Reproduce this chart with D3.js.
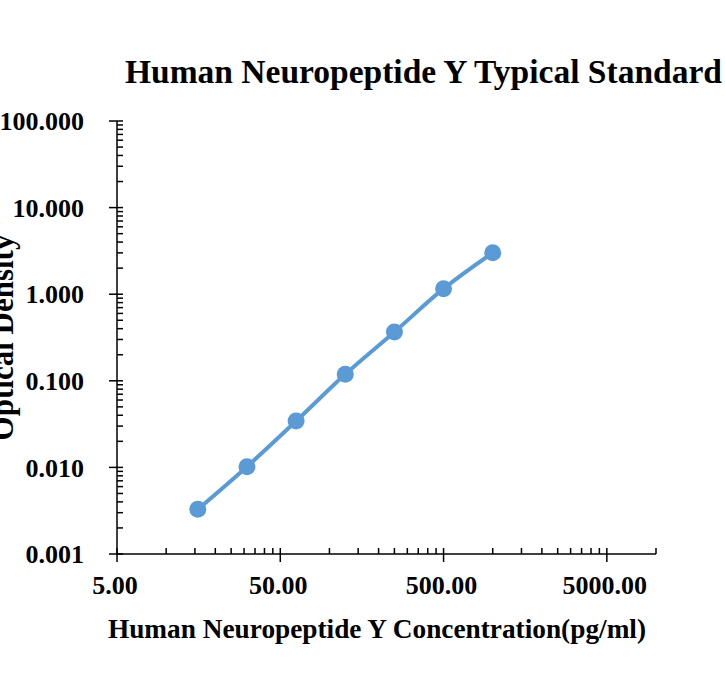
<!DOCTYPE html>
<html lang="en">
  <head>
    <meta charset="UTF-8" />
    <title>Human Neuropeptide Y Typical Standard</title>
    <script src="https://d3js.org/d3.v7.min.js"></script>
    <style>
      body { margin: 0; background: #fff; }
      text { font-family: 'Liberation Serif', 'Times New Roman', serif; font-weight: bold; fill: #000; }
    </style>
  </head>

  <body>
    <div id="graph"></div>
    <script>
      // 标准曲线数据
      const concentration = [15.625, 31.25, 62.5, 125, 250, 500, 1000]
      const opticalDensity = [0.00328, 0.0102, 0.0343, 0.119, 0.366, 1.158, 3.01]
      const xTicks = [5, 50, 500, 5000]
      const yTicks = [0.001, 0.01, 0.1, 1, 10, 100]

      const width = 725
      const height = 698
      const margin = { left: 117, right: 69, top: 121, bottom: 144 }

      const svg = d3.select('#graph').append('svg').attr('width', width).attr('height', height)

      // 对数比例尺
      const xScale = d3
        .scaleLog()
        .domain([5, 10000])
        .range([margin.left, width - margin.right])
      const yScale = d3
        .scaleLog()
        .domain([0.001, 100])
        .range([height - margin.bottom, margin.top])

      // 次刻度: 每个十进位中的 2..9 倍
      const xMinor = []
      xTicks.forEach((t) => d3.range(2, 10).forEach((k) => t * k <= 10000 && xMinor.push(t * k)))
      const yMinor = []
      yTicks.slice(0, -1).forEach((t) => d3.range(2, 10).forEach((k) => yMinor.push(t * k)))

      const axisColor = '#000'

      // x 轴
      const xAxis = svg.append('g').attr('transform', `translate(0, ${height - margin.bottom})`)
      xAxis
        .append('line')
        .attr('x1', xScale.range()[0])
        .attr('x2', xScale.range()[1])
        .attr('stroke', axisColor)
        .attr('stroke-width', 1.5)
      xAxis
        .selectAll('.major')
        .data(xTicks)
        .join('line')
        .attr('x1', (d) => xScale(d))
        .attr('x2', (d) => xScale(d))
        .attr('y1', -6)
        .attr('y2', 8)
        .attr('stroke', axisColor)
        .attr('stroke-width', 1.5)
      xAxis
        .selectAll('.minor')
        .data(xMinor)
        .join('line')
        .attr('x1', (d) => xScale(d))
        .attr('x2', (d) => xScale(d))
        .attr('y1', -6)
        .attr('y2', 0)
        .attr('stroke', axisColor)
        .attr('stroke-width', 1.5)
      xAxis
        .selectAll('text')
        .data(xTicks)
        .join('text')
        .attr('x', (d) => xScale(d) - 2)
        .attr('y', 40)
        .attr('text-anchor', 'middle')
        .attr('font-size', 26)
        .text((d) => d3.format('.2f')(d))

      // y 轴
      const yAxis = svg.append('g').attr('transform', `translate(${margin.left}, 0)`)
      yAxis
        .append('line')
        .attr('y1', yScale.range()[0])
        .attr('y2', yScale.range()[1])
        .attr('stroke', axisColor)
        .attr('stroke-width', 1.5)
      yAxis
        .selectAll('.major')
        .data(yTicks)
        .join('line')
        .attr('y1', (d) => yScale(d))
        .attr('y2', (d) => yScale(d))
        .attr('x1', -8)
        .attr('x2', 6)
        .attr('stroke', axisColor)
        .attr('stroke-width', 1.5)
      yAxis
        .selectAll('.minor')
        .data(yMinor)
        .join('line')
        .attr('y1', (d) => yScale(d))
        .attr('y2', (d) => yScale(d))
        .attr('x1', 0)
        .attr('x2', 6)
        .attr('stroke', axisColor)
        .attr('stroke-width', 1.5)
      yAxis
        .selectAll('text')
        .data(yTicks)
        .join('text')
        .attr('x', -33)
        .attr('y', (d) => yScale(d))
        .attr('dy', '0.35em')
        .attr('text-anchor', 'end')
        .attr('font-size', 26)
        .text((d) => d3.format('.3f')(d))

      // 曲线与标记
      const points = concentration.map((c, i) => [c, opticalDensity[i]])
      const line = d3
        .line()
        .x((d) => xScale(d[0]))
        .y((d) => yScale(d[1]))
        .curve(d3.curveCatmullRom)
      svg
        .append('path')
        .datum(points)
        .attr('d', line)
        .attr('fill', 'none')
        .attr('stroke', '#5B9BD5')
        .attr('stroke-width', 4)
        .attr('stroke-linecap', 'round')
      svg
        .selectAll('circle')
        .data(points)
        .join('circle')
        .attr('cx', (d) => xScale(d[0]))
        .attr('cy', (d) => yScale(d[1]))
        .attr('r', 8.5)
        .attr('fill', '#5B9BD5')

      // 标题
      svg
        .append('text')
        .attr('x', 125)
        .attr('y', 83)
        .attr('font-size', 33.5)
        .text('Human Neuropeptide Y Typical Standard')
      svg
        .append('text')
        .attr('x', 377)
        .attr('y', 638)
        .attr('text-anchor', 'middle')
        .attr('font-size', 27.3)
        .text('Human Neuropeptide Y Concentration(pg/ml)')
      svg
        .append('text')
        .attr('transform', `translate(13, ${(yScale.range()[0] + yScale.range()[1]) / 2}) rotate(-90)`)
        .attr('text-anchor', 'middle')
        .attr('font-size', 31)
        .text('Optical Density')
    </script>
  </body>
</html>
